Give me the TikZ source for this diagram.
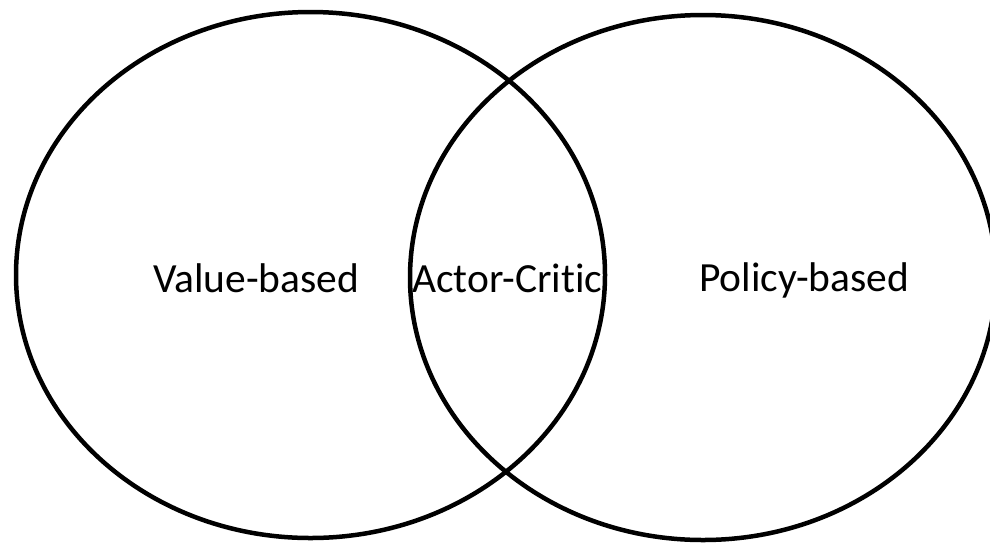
\documentclass[tikz,border=0pt]{standalone}
\usepackage{fontspec}
\setmainfont{Carlito}[Ligatures=NoCommon]
\usetikzlibrary{shapes.geometric}
\tikzset{
  setring/.style={draw=black, line width=4.5pt, ellipse, inner sep=0pt, fill=none},
  setlabel/.style={inner sep=0pt, anchor=base west, font=\fontsize{41.5}{50}\selectfont}
}
\begin{document}
\begin{tikzpicture}[x=1pt,y=-1pt]
\useasboundingbox (0,0) rectangle (990,542);
\node[setlabel] (vb) at (153,292) {Value-based};
\node[setlabel] (ac) at (412,292) {Actor-Critic};
\node[setlabel] (pb) at (699,291) {Policy-based};
\node[setring, minimum width=589pt, minimum height=526pt] (left) at (310.5,275) {};
\node[setring, minimum width=586pt, minimum height=525pt] (right) at (703,277.5) {};
\end{tikzpicture}
\end{document}
